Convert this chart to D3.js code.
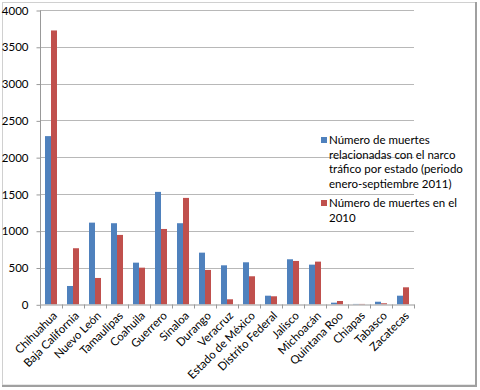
<!DOCTYPE html>
<html><head><meta charset="utf-8">
<script src="https://cdn.jsdelivr.net/npm/d3@7"></script>
<style>
html,body{margin:0;padding:0;background:#fff;}
svg{display:block;}
text{font-family:Lato, "Open Sans", sans-serif;fill:#000;}
</style></head>
<body>
<svg id="c" width="480" height="390"></svg>
<script>
const categories = ["Chihuahua","Baja California","Nuevo León","Tamaulipas","Coahuila","Guerrero","Sinaloa","Durango","Veracruz","Estado de México","Distrito Federal","Jalisco","Michoacán","Quintana Roo","Chiapas","Tabasco","Zacatecas"];
const muertes2011 = [2286, 249, 1110, 1102, 566, 1528, 1102, 702, 530, 571, 117, 612, 539, 22, 5, 35, 117];
const muertes2010 = [3722, 762, 358, 943, 498, 1024, 1446, 467, 68, 381, 109, 589, 580, 45, 5, 14, 231];
const seriesNames = [
  ["Número de muertes","relacionadas con el narco","tráfico por estado (periodo","enero-septiembre 2011)"],
  ["Número de muertes en el","2010"]
];
const yTicks = [0,500,1000,1500,2000,2500,3000,3500,4000];
const colors = ["#4F81BD","#C0504D"];

const svg = d3.select("#c");
const pL = 40, pR = 414, pT = 10, pB = 304.3;

// outer frame
svg.append("rect").attr("x",2.5).attr("y",2.5).attr("width",473).attr("height",382.5)
  .attr("fill","#fff").attr("stroke","#d0d0d0").attr("stroke-width",1);
svg.append("line").attr("x1",476).attr("x2",476).attr("y1",2).attr("y2",386.5).attr("stroke","#a0a0a0").attr("stroke-width",2);
svg.append("line").attr("x1",2).attr("x2",477).attr("y1",386).attr("y2",386).attr("stroke","#a0a0a0").attr("stroke-width",2);

const y = d3.scaleLinear().domain([0,4000]).range([pB, pT]);
const x = d3.scaleBand().domain(categories).range([pL, pR]).padding(0);
const xs = d3.scaleBand().domain([0,1]).range([0, x.bandwidth()]).paddingInner(0).paddingOuter(0.833);

// gridlines
svg.append("g").selectAll("line").data(yTicks.filter(d=>d>0)).join("line")
  .attr("x1",pL).attr("x2",pR)
  .attr("y1",d=>Math.round(y(d))+0.5).attr("y2",d=>Math.round(y(d))+0.5)
  .attr("stroke","#b8b8b8").attr("stroke-width",1);

// y axis
const yAxis = d3.axisLeft(y).tickValues(yTicks).tickSize(4).tickPadding(8).tickFormat(d3.format("d"));
const gy = svg.append("g").attr("transform",`translate(${pL+0.5},0.5)`).call(yAxis);
gy.select(".domain").attr("stroke","#999").attr("d",`M0,${y(0)}V${pT}`);
gy.selectAll(".tick line").attr("stroke","#999");
gy.selectAll(".tick text").attr("font-size","11.5px").attr("font-family","Lato, sans-serif");

// bars
const data = categories.map((c,i)=>({c, v:[muertes2011[i], muertes2010[i]]}));
const g = svg.append("g");
g.selectAll("g").data(data).join("g")
  .attr("transform",d=>`translate(${x(d.c)},0)`)
  .selectAll("rect").data(d=>d.v.map((v,k)=>({v,k}))).join("rect")
  .attr("x",d=>xs(d.k)).attr("width",xs.bandwidth())
  .attr("y",d=>y(d.v)).attr("height",d=>y(0)-y(d.v))
  .attr("fill",d=>colors[d.k]);

// x axis
const xAxis = d3.axisBottom(x).tickSize(0).tickFormat("");
const gx = svg.append("g").attr("transform",`translate(0,${Math.round(pB)+0.5})`).call(xAxis);
gx.select(".domain").attr("stroke","#999");
gx.selectAll(".tick").remove();
const bounds = d3.range(categories.length+1).map(i=>pL + i*x.step());
gx.selectAll("line.b").data(bounds).join("line").attr("class","b")
  .attr("x1",d=>Math.round(d)+0.5).attr("x2",d=>Math.round(d)+0.5).attr("y1",0).attr("y2",4).attr("stroke","#999");
gx.selectAll("text.lbl").data(categories).join("text").attr("class","lbl")
  .attr("transform",d=>`translate(${x(d)+x.bandwidth()/2+4},9) rotate(-45)`)
  .attr("text-anchor","end").attr("dy","0.35em")
  .attr("font-size","11.5px").text(d=>d);

// legend
const lg = svg.append("g");
const legY = [137, 200];
seriesNames.forEach((lines,k)=>{
  lg.append("rect").attr("x",321).attr("y",legY[k]).attr("width",6).attr("height",6).attr("fill",colors[k]);
  lines.forEach((t,j)=>{
    lg.append("text").attr("x",329).attr("y",legY[k]+7+j*14.7).attr("font-size","11.5px").text(t);
  });
});
</script>
</body></html>
